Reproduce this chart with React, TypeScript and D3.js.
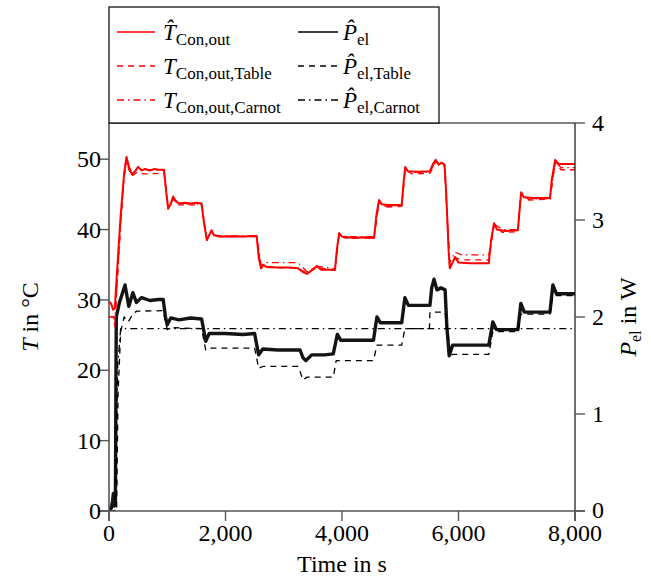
import React from "react";
import * as d3 from "d3";

type Pt = [number, number];

const xTicks = [0, 2000, 4000, 6000, 8000];
const tTicks = [0, 10, 20, 30, 40, 50];
const pTicks = [0, 1, 2, 3, 4];

const tConOut: Pt[] = [[0,29.8],[40,29.4],[70,28.6],[100,28.8],[130,33],[200,42],[260,48],[300,50.3],[340,49],[390,47.9],[440,48.2],[500,48.9],[560,48.4],[620,48.6],[700,48.4],[780,48.6],[850,48.5],[945,48.5],[980,45.5],[1015,43.0],[1060,43.6],[1100,44.7],[1150,44.0],[1200,43.7],[1300,43.8],[1400,43.7],[1500,43.8],[1590,43.7],[1630,41],[1680,38.5],[1720,39.2],[1760,39.9],[1800,39.2],[1900,39.0],[2100,39.05],[2300,39.0],[2535,39.1],[2570,36],[2610,34.5],[2650,35.0],[2700,34.7],[2900,34.6],[3100,34.6],[3245,34.5],[3320,34.0],[3400,33.7],[3480,34.2],[3570,34.8],[3640,34.3],[3750,34.3],[3880,34.3],[3910,37],[3950,39.5],[4000,39.0],[4200,38.8],[4400,38.9],[4550,38.8],[4590,42],[4635,44.2],[4680,43.6],[4800,43.5],[5025,43.5],[5055,46.5],[5085,48.9],[5130,48.3],[5300,48.2],[5510,48.3],[5560,49.3],[5610,49.9],[5660,49.2],[5710,49.5],[5760,49.2],[5790,45],[5830,37],[5850,34.5],[5900,35.3],[5940,36.1],[6000,35.3],[6200,35.2],[6520,35.2],[6560,38.5],[6610,40.9],[6660,40],[6800,39.8],[7020,39.9],[7050,43],[7075,45.3],[7120,44.6],[7300,44.5],[7570,44.5],[7600,47],[7660,49.9],[7720,49.3],[8000,49.3]];

const tConOutTable: Pt[] = [[0,27.6],[80,27.6],[100,26.2],[130,31],[200,41],[260,47.5],[300,49.8],[340,48.5],[390,47.6],[500,48.2],[600,47.9],[945,48.0],[1015,42.9],[1100,44.3],[1200,43.5],[1590,43.5],[1680,38.5],[1760,39.7],[1850,39.0],[2535,39.0],[2610,34.5],[2700,34.6],[3245,34.5],[3400,33.8],[3570,34.6],[3880,34.2],[3950,39.2],[4050,38.8],[4550,38.8],[4635,43.9],[4750,43.2],[5025,43.3],[5085,48.5],[5200,47.9],[5510,48.0],[5610,49.6],[5760,49.0],[5850,34.8],[5940,36.0],[6050,35.7],[6520,35.7],[6610,40.6],[6750,39.6],[7020,39.7],[7075,45],[7200,44.2],[7570,44.3],[7660,49.5],[7760,48.5],[8000,48.5]];

const tConOutCarnot: Pt[] = [[0,27.6],[80,27.6],[100,26.2],[130,31],[200,41],[260,47.5],[300,50],[340,48.8],[390,47.8],[500,48.6],[945,48.4],[1015,43.1],[1100,44.5],[1200,43.7],[1590,43.6],[1680,38.6],[1760,39.8],[1850,39.1],[2535,39.1],[2610,35.0],[2700,35.3],[3245,35.3],[3400,34.0],[3570,34.8],[3880,34.4],[3950,39.4],[4050,39.0],[4550,39.0],[4635,44.0],[4750,43.3],[5025,43.4],[5085,48.7],[5200,48.1],[5510,48.2],[5610,49.8],[5760,49.3],[5850,35.3],[5940,36.8],[6050,36.4],[6520,36.4],[6610,40.8],[6750,40.0],[7020,40.0],[7075,45.1],[7200,44.3],[7570,44.4],[7660,49.6],[7760,48.8],[8000,48.8]];

const pEl: Pt[] = [[0,0.02],[40,0.03],[60,0.1],[75,0.18],[90,0.05],[110,0.1],[118,1.2],[125,2.0],[180,2.15],[275,2.33],[340,2.11],[410,2.25],[470,2.15],[560,2.2],[700,2.17],[850,2.18],[930,2.18],[970,2.0],[1000,1.92],[1060,1.99],[1200,1.97],[1400,1.99],[1590,1.98],[1630,1.85],[1660,1.75],[1720,1.83],[2000,1.83],[2300,1.82],[2500,1.83],[2540,1.7],[2570,1.61],[2640,1.67],[2900,1.66],[3280,1.66],[3330,1.58],[3380,1.55],[3480,1.61],[3700,1.61],[3850,1.62],[3920,1.82],[3980,1.76],[4200,1.76],[4540,1.76],[4600,2.0],[4660,1.94],[5025,1.94],[5080,2.2],[5140,2.12],[5510,2.12],[5540,2.3],[5580,2.39],[5630,2.28],[5700,2.3],[5770,2.28],[5800,1.9],[5840,1.6],[5900,1.71],[6520,1.71],[6590,1.95],[6650,1.87],[7020,1.87],[7070,2.14],[7130,2.05],[7570,2.05],[7620,2.33],[7680,2.24],[8000,2.24]];

const pElTable: Pt[] = [[0,0],[130,0],[155,1.2],[200,1.85],[260,2.0],[330,1.95],[420,2.04],[480,2.06],[930,2.065],[1000,1.87],[1060,1.89],[1590,1.88],[1660,1.66],[1720,1.68],[2500,1.68],[2570,1.47],[2640,1.49],[3250,1.49],[3330,1.35],[3400,1.38],[3850,1.38],[3900,1.55],[4540,1.55],[4600,1.71],[5025,1.71],[5080,1.88],[5500,1.88],[5510,2.05],[5770,2.05],[5870,1.6],[5900,1.615],[6520,1.615],[6590,1.85],[7020,1.85],[7070,2.03],[7570,2.03],[7620,2.22],[8000,2.22]];

const pElCarnot: Pt[] = [[0,0],[100,0],[150,1.5],[200,1.88],[8000,1.88]];

const W = 651, H = 576;
const L = 109, R = 575, T0 = 123, B = 511;
const FONT = "'Liberation Serif', 'Times New Roman', Times, serif";
const DASH = "6,5";
const DASHDOT = "7,4,1.5,4";

export default function App() {
  const x = d3.scaleLinear().domain([0, 8000]).range([L, R]);
  const yT = d3.scaleLinear().domain([0, 55]).range([B, T0 + 1]);
  const yP = d3.scaleLinear().domain([0, 4]).range([B, T0]);
  const lineT = d3.line<Pt>().x(d => x(d[0])).y(d => yT(d[1]));
  const lineP = d3.line<Pt>().x(d => x(d[0])).y(d => yP(d[1]));
  const fmt = d3.format(",");
  const axisCol = "#555";

  const legendRows = [
    { y: 32, dash: undefined as string | undefined },
    { y: 66, dash: DASH },
    { y: 100, dash: DASHDOT },
  ];

  return (
    <svg width={W} height={H} style={{ position: "absolute", left: 0, top: 0, background: "#fff", fontFamily: FONT }}>
      <defs>
        <clipPath id="plot"><rect x={L} y={T0} width={R - L} height={B - T0} /></clipPath>
      </defs>
      {/* data */}
      <g clipPath="url(#plot)" fill="none" strokeLinejoin="round">
        <path d={lineP(pElCarnot) || ""} stroke="#000" strokeWidth={1.3} strokeDasharray={DASHDOT} />
        <path d={lineP(pElTable) || ""} stroke="#000" strokeWidth={1.3} strokeDasharray={DASH} />
        <path d={lineP(pEl) || ""} stroke="#000" strokeWidth={3.4} opacity={0.92} />
        <path d={lineT(tConOutCarnot) || ""} stroke="#f00" strokeWidth={1.3} strokeDasharray={DASHDOT} />
        <path d={lineT(tConOutTable) || ""} stroke="#f00" strokeWidth={1.3} strokeDasharray={DASH} />
        <path d={lineT(tConOut) || ""} stroke="#f00" strokeWidth={2} />
      </g>
      {/* frame */}
      <line x1={L} x2={R} y1={T0} y2={T0} stroke="#000" strokeWidth={1.2} />
      <line x1={L} x2={L} y1={T0} y2={B + 10} stroke={axisCol} strokeWidth={1.6} />
      <line x1={R} x2={R} y1={T0} y2={B + 10} stroke="#222" strokeWidth={1.3} />
      <line x1={L - 11} x2={R + 10} y1={B} y2={B} stroke={axisCol} strokeWidth={1.6} />
      {/* x ticks */}
      {xTicks.map(t => (
        <g key={"x" + t}>
          <line x1={x(t)} x2={x(t)} y1={B} y2={B + 10} stroke={axisCol} strokeWidth={1.4} />
          <text x={x(t)} y={541} textAnchor="middle" fontSize={24}>{fmt(t)}</text>
        </g>
      ))}
      {/* left ticks */}
      {tTicks.map(t => (
        <g key={"t" + t}>
          <line x1={L - 10} x2={L} y1={yT(t)} y2={yT(t)} stroke={axisCol} strokeWidth={1.4} />
          <text x={L - 8} y={yT(t) + 8} textAnchor="end" fontSize={24}>{t}</text>
        </g>
      ))}
      {/* right ticks */}
      {pTicks.map(p => (
        <g key={"p" + p}>
          <line x1={R} x2={R + 10} y1={yP(p)} y2={yP(p)} stroke={axisCol} strokeWidth={1.4} />
          <text x={R + 17} y={yP(p) + (p === 0 ? 7 : 8)} textAnchor="start" fontSize={24}>{p}</text>
        </g>
      ))}
      {/* axis labels */}
      <text x={342} y={572} textAnchor="middle" fontSize={24}>Time in s</text>
      <text transform={`translate(38,${(T0 + B) / 2}) rotate(-90)`} textAnchor="middle" fontSize={24}>
        <tspan fontStyle="italic">T</tspan> in °C
      </text>
      <text transform={`translate(636,${(T0 + B) / 2}) rotate(-90)`} textAnchor="middle" fontSize={24}>
        <tspan fontStyle="italic">P</tspan><tspan fontSize={16} dy={5}>el</tspan><tspan dy={-5}> in W</tspan>
      </text>
      {/* legend */}
      <rect x={109} y={7} width={330} height={116} fill="#fff" stroke="#000" strokeWidth={1.2} />
      {legendRows.map((r, i) => (
        <g key={"lg" + i}>
          <line x1={117} x2={155} y1={r.y} y2={r.y} stroke="#f00" strokeWidth={1.4} strokeDasharray={r.dash} />
          <line x1={298} x2={338} y1={r.y} y2={r.y} stroke="#000" strokeWidth={1.4} strokeDasharray={r.dash} />
        </g>
      ))}
      <text x={163} y={40} fontSize={23}>
        <tspan fontStyle="italic">T&#770;</tspan><tspan fontSize={17} dy={5}>Con,out</tspan>
      </text>
      <text x={163} y={74} fontSize={23}>
        <tspan fontStyle="italic">T</tspan><tspan fontSize={17} dy={5}>Con,out,Table</tspan>
      </text>
      <text x={163} y={108} fontSize={23}>
        <tspan fontStyle="italic">T</tspan><tspan fontSize={17} dy={5}>Con,out,Carnot</tspan>
      </text>
      <text x={343} y={40} fontSize={23}>
        <tspan fontStyle="italic">P&#770;</tspan><tspan fontSize={17} dy={5}>el</tspan>
      </text>
      <text x={343} y={74} fontSize={23}>
        <tspan fontStyle="italic">P&#770;</tspan><tspan fontSize={17} dy={5}>el,Table</tspan>
      </text>
      <text x={343} y={108} fontSize={23}>
        <tspan fontStyle="italic">P&#770;</tspan><tspan fontSize={17} dy={5}>el,Carnot</tspan>
      </text>
    </svg>
  );
}
